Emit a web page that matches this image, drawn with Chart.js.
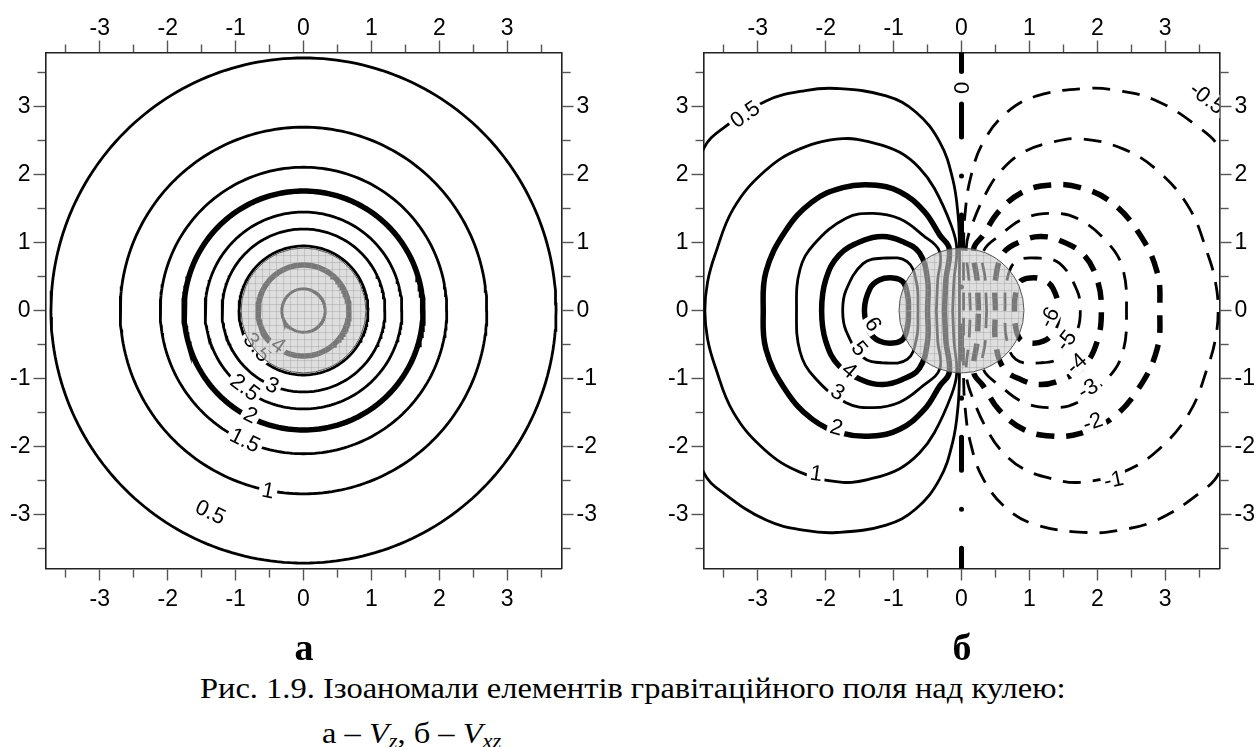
<!DOCTYPE html>
<html lang="uk">
<head>
<meta charset="utf-8">
<title>Ізоаномали</title>
<script src="https://cdn.jsdelivr.net/npm/chart.js@4.4.1/dist/chart.umd.min.js"></script>
<style>
  html, body { margin: 0; padding: 0; background: #fff; }
  body { width: 1257px; height: 747px; position: relative; overflow: hidden;
         font-family: "Liberation Serif", "Times New Roman", serif; color: #000; }
  canvas { position: absolute; top: 0; }
  #chartA { left: 0; }
  #chartB { left: 657.5px; }
  .tag { position: absolute; top: 628px; font-size: 38px; font-weight: bold; line-height: 1;
         transform: translateX(-50%); }
  .cap { position: absolute; font-size: 29px; line-height: 1; white-space: nowrap;
         transform: scaleX(1.12); transform-origin: 0 0; }
  .cap sub { font-size: 20px; vertical-align: -5px; line-height: 0; }
</style>
</head>
<body>
<canvas id="chartA" width="620" height="640"></canvas>
<canvas id="chartB" width="600" height="640"></canvas>
<div class="tag" style="left:304px">а</div>
<div class="tag" style="left:962px">б</div>
<div class="cap" style="left:200px; top:674px">Рис. 1.9. Ізоаномали елементів гравітаційного поля над кулею:</div>
<div class="cap" style="left:322px; top:719px">а – <i>V</i><sub><i>z</i></sub>, б – <i>V</i><sub><i>xz</i></sub></div>
<script>
// axis range and tick positions (half-unit minor ticks, labels on integers)
const axisMin = -3.8, axisMax = 3.8;
const tickValues = [-3.5, -3, -2.5, -2, -1.5, -1, -0.5, 0, 0.5, 1, 1.5, 2, 2.5, 3, 3.5];
const sphereRadius = 0.92;

// Vz: concentric isolines, radius of each level
const vzLevels = [0.5, 1, 1.5, 2, 2.5, 3, 3.5, 4, 4.5];
const vzRadii  = [3.72, 2.70, 2.11, 1.76, 1.45, 1.20, 0.95, 0.67, 0.32];
const vzBold   = [2, 4];
const vzLabels = [
  { text: '0.5', x: -1.37, y: -2.97, rot: 25 },
  { text: '1',   x: -0.52, y: -2.65, rot: 11 },
  { text: '1.5', x: -0.86, y: -1.91, rot: 26 },
  { text: '2',   x: -0.78, y: -1.54, rot: 27 },
  { text: '2.5', x: -0.86, y: -1.13, rot: 37 },
  { text: '3',   x: -0.46, y: -1.10, rot: 23 },
  { text: '3.5', x: -0.68, y: -0.54, rot: 51 },
  { text: '4',   x: -0.37, y: -0.51, rot: 36 }
];

// Vxz: positive levels west of the sphere, traced over the upper half
// from the outer edge (y = 0) round to the sphere and back down to y = 0
const vxzLevels = [0.5, 1, 2, 3, 4, 5, 6];
const vxzBold   = [2, 4, 6];
const vxzTrace = [
  [[-4.3, 0], [-4.15, 1.3], [-3.8, 2.38], [-3.49, 2.70], [-2.87, 3.09], [-2.3, 3.24], [-1.84, 3.27],
   [-1.11, 3.16], [-0.67, 2.92], [-0.32, 2.48], [-0.13, 1.94], [-0.05, 1.40], [-0.03, 0.91], [-0.03, 0.45], [-0.03, 0]],
  [[-3.78, 0], [-3.74, 0.42], [-3.63, 0.82], [-3.36, 1.5], [-2.9, 2.05], [-2.38, 2.38], [-1.75, 2.53],
   [-1.3, 2.47], [-0.91, 2.33], [-0.62, 2.1], [-0.4, 1.8], [-0.15, 1.25], [-0.07, 0.92], [-0.11, 0.45], [-0.13, 0]],
  [[-2.92, 0], [-2.88, 0.57], [-2.6, 1.16], [-2.2, 1.6], [-1.75, 1.81], [-1.32, 1.85], [-0.91, 1.75],
   [-0.55, 1.46], [-0.32, 1.11], [-0.18, 0.91], [-0.23, 0.45], [-0.25, 0]],
  [[-2.43, 0], [-2.38, 0.6], [-2.17, 0.98], [-1.7, 1.36], [-1.30, 1.43], [-0.91, 1.35],
   [-0.57, 1.11], [-0.32, 0.86], [-0.35, 0.45], [-0.37, 0]],
  [[-2.06, 0], [-2.0, 0.45], [-1.8, 0.82], [-1.45, 1.03], [-1.16, 1.09], [-0.88, 1.02],
   [-0.62, 0.85], [-0.5, 0.45], [-0.5, 0]],
  [[-1.75, 0], [-1.70, 0.3], [-1.45, 0.69], [-1.16, 0.77], [-0.8, 0.72], [-0.66, 0.4], [-0.64, 0]],
  [[-1.43, 0], [-1.35, 0.32], [-1.21, 0.45], [-1.01, 0.48], [-0.86, 0.42], [-0.79, 0.2], [-0.78, 0]]
];
const vxzLabels = [
  { text: '0.5',  x: -3.19, y: 2.89,  rot: -35 },
  { text: '1',    x: -2.14, y: -2.40, rot: 8 },
  { text: '2',    x: -1.84, y: -1.72, rot: 15 },
  { text: '3',    x: -1.82, y: -1.20, rot: 30 },
  { text: '4',    x: -1.65, y: -0.88, rot: 40 },
  { text: '5',    x: -1.50, y: -0.56, rot: 50 },
  { text: '6',    x: -1.30, y: -0.20, rot: 58 },
  { text: '-0.5', x: 3.62,  y: 3.13,  rot: 38 },
  { text: '-1',   x: 2.24,  y: -2.49, rot: -12 },
  { text: '-2',   x: 1.93,  y: -1.64, rot: -20 },
  { text: '-3',   x: 1.86,  y: -1.15, rot: -30 },
  { text: '-4',   x: 1.69,  y: -0.78, rot: -42 },
  { text: '-5',   x: 1.54,  y: -0.44, rot: -52 },
  { text: '-6',   x: 1.29,  y: -0.10, rot: -62 },
  { text: '0',    x: 0,     y: 3.28,  rot: 90 }
];
// zero isoline along x = 0 (dash-dot), short stub above its label
const zeroStubY = [3.8, 3.52];
const zeroLineY = [3.04, -3.8];

const axisFont = { family: "'Liberation Sans', Arial, sans-serif", size: 23 };
const isMajor = v => Number.isInteger(v);

function frameAxis(position, size, padding) {
  const horizontal = position === 'top' || position === 'bottom';
  const outerFirst = position === 'top' || position === 'left';
  return {
    type: 'linear', position, min: axisMin, max: axisMax,
    afterBuildTicks: s => { s.ticks = tickValues.map(v => ({ value: v })); },
    afterFit: s => { if (horizontal) s.height = size; else s.width = size; },
    ticks: {
      autoSkip: false, maxRotation: 0, padding, color: '#000', font: axisFont,
      callback: v => isMajor(v) ? String(v) : ''
    },
    grid: {
      drawOnChartArea: false, tickLength: 12, tickColor: '#555', tickWidth: 1.4,
      tickBorderDash: c => isMajor(c.tick.value) ? [] : [8, 50],
      tickBorderDashOffset: c => (!isMajor(c.tick.value) && outerFirst) ? 54 : 0
    },
    border: { display: true, color: '#222', width: 1.6 }
  };
}

function frameScales(w) {
  return {
    x: frameAxis('bottom', 71.5, 5),
    xTop: frameAxis('top', 52.5, -2),
    y: frameAxis('left', 45.5, 3),
    yRight: frameAxis('right', w - 45.5 - 516, 3)
  };
}

// contour labels on white patches, then the semi-transparent sphere on top
const overlayPlugin = {
  id: 'overlay',
  afterDatasetsDraw(chart, args, opts) {
    const { ctx, chartArea: a, scales: { x, y } } = chart;
    ctx.save();
    ctx.beginPath();
    ctx.rect(a.left, a.top, a.right - a.left, a.bottom - a.top);
    ctx.clip();
    ctx.font = "22px 'Liberation Sans', Arial, sans-serif";
    ctx.textAlign = 'center';
    ctx.textBaseline = 'middle';
    opts.labels.forEach(l => {
      ctx.save();
      ctx.translate(x.getPixelForValue(l.x), y.getPixelForValue(l.y));
      ctx.rotate(l.rot * Math.PI / 180);
      const w = ctx.measureText(l.text).width;
      ctx.fillStyle = '#fff';
      ctx.fillRect(-w / 2 - 3, -10, w + 6, 20);
      ctx.fillStyle = '#000';
      ctx.fillText(l.text, 0, 1);
      ctx.restore();
    });
    const cx = x.getPixelForValue(0), cy = y.getPixelForValue(0);
    const r = x.getPixelForValue(opts.sphere) - cx;
    ctx.beginPath();
    ctx.arc(cx, cy, r, 0, Math.PI * 2);
    ctx.fillStyle = 'rgba(200,200,200,0.6)';
    ctx.fill();
    ctx.save();
    ctx.clip();
    ctx.strokeStyle = 'rgba(150,150,150,0.35)';
    ctx.lineWidth = 1;
    ctx.beginPath();
    for (let g = -r; g <= r; g += 7) {
      ctx.moveTo(cx + g + 0.5, cy - r); ctx.lineTo(cx + g + 0.5, cy + r);
      ctx.moveTo(cx - r, cy + g + 0.5); ctx.lineTo(cx + r, cy + g + 0.5);
    }
    ctx.stroke();
    ctx.restore();
    ctx.beginPath();
    ctx.arc(cx, cy, r, 0, Math.PI * 2);
    ctx.strokeStyle = '#555';
    ctx.lineWidth = 1;
    ctx.stroke();
    ctx.restore();
  }
};

function makeChart(id, datasets, labels, w) {
  return new Chart(document.getElementById(id), {
    type: 'scatter',
    data: { datasets },
    options: {
      responsive: false, animation: false, devicePixelRatio: 1, events: [],
      layout: { padding: 0 },
      scales: frameScales(w),
      elements: { point: { radius: 0 } },
      plugins: { legend: { display: false }, tooltip: { enabled: false },
                 overlay: { labels, sphere: sphereRadius } }
    },
    plugins: [overlayPlugin]
  });
}

function circle(r) {
  const pts = [];
  for (let i = 0; i <= 240; i++) {
    const t = i / 240 * Math.PI * 2;
    pts.push({ x: r * Math.cos(t), y: r * Math.sin(t) });
  }
  return pts;
}

const lineBase = { showLine: true, pointRadius: 0, borderColor: '#000', clip: 0, fill: false };

const vzSets = vzLevels.map((lv, i) => ({
  ...lineBase, label: String(lv), data: circle(vzRadii[i]),
  borderWidth: vzBold.includes(lv) ? 5.5 : 2.8
}));
makeChart('chartA', vzSets, vzLabels, 620);

// closed loop: start inside the sphere, run over the top, mirror below
function loop(trace, sx) {
  const up = trace.slice().reverse().map(([x, y]) => ({ x: sx * x, y }));
  const down = trace.slice(1).map(([x, y]) => ({ x: sx * x, y: -y }));
  return up.concat(down);
}

const vxzSets = [];
vxzLevels.forEach((lv, i) => {
  const bold = vxzBold.includes(lv);
  vxzSets.push({ ...lineBase, label: String(lv), data: loop(vxzTrace[i], 1),
                 tension: 0.4, borderWidth: bold ? 5.5 : 2.8 });
  vxzSets.push({ ...lineBase, label: String(-lv), data: loop(vxzTrace[i], -1),
                 tension: 0.4, borderWidth: bold ? 5.5 : 2.8, borderDash: [18, 12] });
});
vxzSets.push({ ...lineBase, label: '0', data: zeroStubY.map(v => ({ x: 0, y: v })),
               borderWidth: 5, borderCapStyle: 'round' });
vxzSets.push({ ...lineBase, label: '0', data: zeroLineY.map(v => ({ x: 0, y: v })),
               borderWidth: 5, borderCapStyle: 'round', borderDash: [33, 39, 0.01, 39] });
makeChart('chartB', vxzSets, vxzLabels, 600);
</script>
</body>
</html>
